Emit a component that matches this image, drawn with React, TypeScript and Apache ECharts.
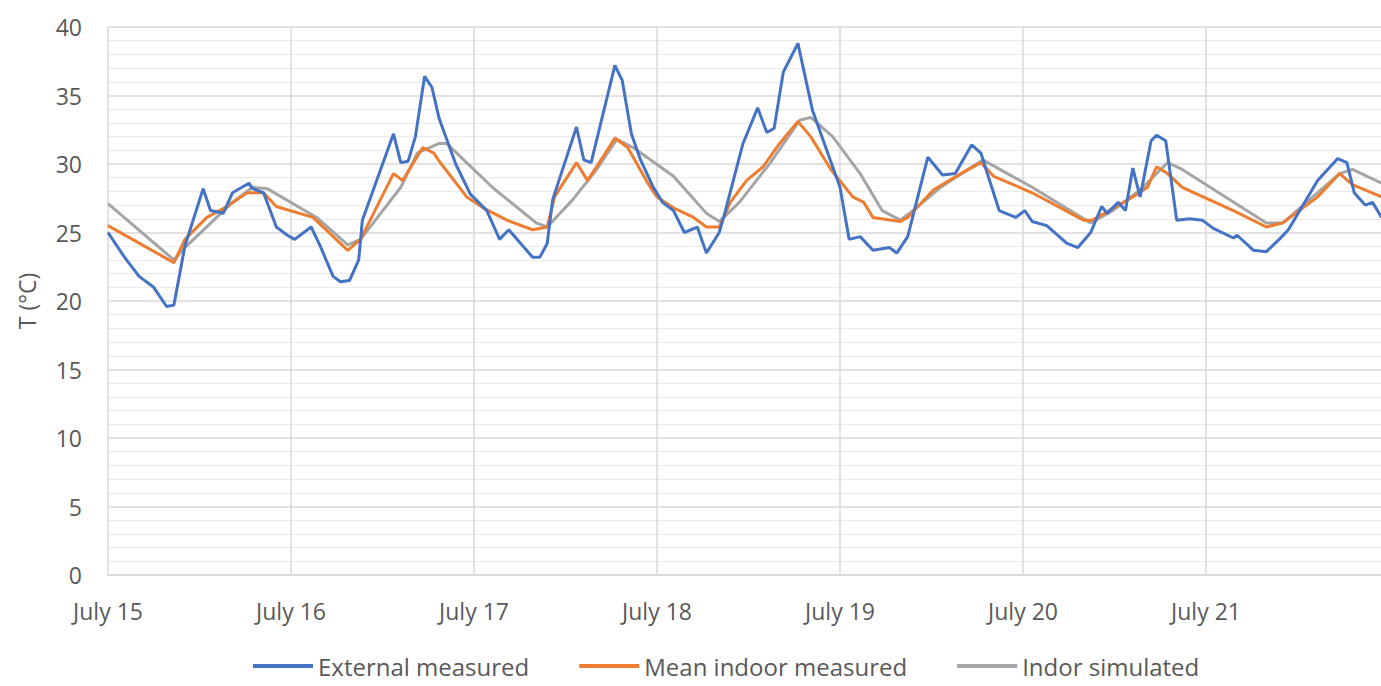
import React, { useEffect, useRef } from "react";
import * as echarts from "echarts";

// x = days since July 15 00:00, y = temperature (°C)
const dayLabels = ["July 15", "July 16", "July 17", "July 18", "July 19", "July 20", "July 21", "July 22"];

const externalMeasured: [number, number][] = [
  [0, 25.0], [0.09, 23.2], [0.17, 21.8], [0.25, 21.0], [0.32, 19.6], [0.36, 19.7], [0.42, 24.0],
  [0.52, 28.2], [0.56, 26.6], [0.63, 26.4], [0.68, 27.9], [0.77, 28.6], [0.79, 28.2], [0.85, 27.9],
  [0.92, 25.4], [0.98, 24.8], [1.02, 24.5], [1.11, 25.4], [1.16, 24.0], [1.23, 21.8], [1.27, 21.4],
  [1.32, 21.5], [1.37, 23.0], [1.39, 25.9], [1.56, 32.2], [1.60, 30.1], [1.64, 30.2], [1.68, 32.0],
  [1.73, 36.4], [1.77, 35.6], [1.81, 33.3], [1.90, 30.0], [1.98, 27.8], [2.07, 26.6], [2.14, 24.5],
  [2.19, 25.2], [2.32, 23.2], [2.36, 23.2], [2.40, 24.2], [2.43, 27.4], [2.56, 32.7], [2.60, 30.3],
  [2.64, 30.1], [2.77, 37.2], [2.81, 36.1], [2.86, 32.2], [2.91, 30.3], [2.98, 28.3], [3.03, 27.2],
  [3.09, 26.6], [3.15, 25.0], [3.22, 25.4], [3.27, 23.5], [3.34, 25.0], [3.37, 26.4], [3.47, 31.5],
  [3.55, 34.1], [3.60, 32.3], [3.64, 32.6], [3.69, 36.7], [3.77, 38.8], [3.85, 33.9], [4.00, 28.3],
  [4.05, 24.5], [4.11, 24.7], [4.18, 23.7], [4.27, 23.9], [4.31, 23.5], [4.37, 24.7], [4.48, 30.5],
  [4.56, 29.2], [4.63, 29.3], [4.72, 31.4], [4.77, 30.8], [4.81, 29.1], [4.87, 26.6], [4.96, 26.1],
  [5.01, 26.6], [5.05, 25.8], [5.13, 25.5], [5.24, 24.2], [5.30, 23.9], [5.37, 25.0], [5.43, 26.9],
  [5.46, 26.4], [5.52, 27.2], [5.56, 26.6], [5.60, 29.7], [5.64, 27.6], [5.70, 31.7], [5.73, 32.1],
  [5.78, 31.7], [5.84, 25.9], [5.91, 26.0], [5.98, 25.9], [6.04, 25.3], [6.15, 24.6], [6.17, 24.8],
  [6.26, 23.7], [6.33, 23.6], [6.40, 24.5], [6.45, 25.2], [6.61, 28.8], [6.72, 30.4], [6.77, 30.1],
  [6.81, 27.9], [6.87, 27.0], [6.91, 27.2], [6.96, 26.1],
];

const meanIndoorMeasured: [number, number][] = [
  [0, 25.5], [0.36, 22.8], [0.42, 24.5], [0.54, 26.1], [0.65, 26.9], [0.76, 27.9], [0.85, 27.9],
  [0.92, 26.9], [1.12, 26.1], [1.31, 23.7], [1.38, 24.5], [1.56, 29.3], [1.61, 28.8], [1.72, 31.2],
  [1.78, 30.8], [1.81, 30.2], [1.96, 27.6], [2.05, 26.8], [2.18, 25.9], [2.32, 25.2], [2.40, 25.4],
  [2.44, 27.6], [2.56, 30.1], [2.62, 28.8], [2.67, 29.8], [2.77, 31.9], [2.84, 31.2], [2.95, 28.6],
  [3.00, 27.6], [3.09, 26.8], [3.20, 26.1], [3.27, 25.4], [3.34, 25.4], [3.40, 27.2], [3.49, 28.8],
  [3.58, 29.8], [3.67, 31.5], [3.77, 33.1], [3.84, 32.0], [3.95, 29.6], [4.07, 27.6], [4.13, 27.2],
  [4.18, 26.1], [4.33, 25.8], [4.37, 26.1], [4.51, 28.1], [4.66, 29.3], [4.77, 30.1], [4.84, 29.1],
  [5.05, 27.9], [5.33, 25.9], [5.38, 25.9], [5.51, 26.9], [5.60, 27.6], [5.68, 28.3], [5.73, 29.8],
  [5.79, 29.3], [5.87, 28.3], [6.15, 26.6], [6.33, 25.4], [6.42, 25.7], [6.61, 27.6], [6.73, 29.3],
  [6.80, 28.5], [6.96, 27.6],
];

const indoorSimulated: [number, number][] = [
  [0, 27.1], [0.36, 23.0], [0.42, 23.9], [0.68, 27.2], [0.79, 28.3], [0.87, 28.2], [1.14, 26.1],
  [1.31, 24.1], [1.38, 24.5], [1.60, 28.3], [1.69, 30.8], [1.81, 31.5], [1.85, 31.5], [2.10, 28.3],
  [2.34, 25.7], [2.40, 25.4], [2.54, 27.4], [2.67, 29.6], [2.78, 31.8], [2.87, 31.2], [3.09, 29.1],
  [3.27, 26.4], [3.34, 25.8], [3.45, 27.2], [3.62, 30.1], [3.78, 33.2], [3.84, 33.4], [3.96, 32.0],
  [4.11, 29.3], [4.23, 26.6], [4.33, 25.9], [4.38, 26.4], [4.55, 28.3], [4.78, 30.3], [5.05, 28.3],
  [5.37, 25.7], [5.49, 26.6], [5.64, 28.1], [5.79, 30.1], [5.87, 29.6], [6.33, 25.7], [6.42, 25.7],
  [6.73, 29.3], [6.80, 29.6], [6.96, 28.6],
];

const seriesNames = ["External measured", "Mean indoor measured", "Indor simulated"];
const seriesColors = ["#4472C4", "#ED7D31", "#A5A5A5"];

export default function App() {
  const ref = useRef<HTMLDivElement>(null);
  useEffect(() => {
    if (!ref.current) return;
    const chart = echarts.init(ref.current, undefined, { renderer: "svg" });
    const font = "'Open Sans', sans-serif";
    const datasets = [externalMeasured, meanIndoorMeasured, indoorSimulated];
    chart.setOption({
      animation: false,
      backgroundColor: "#ffffff",
      grid: {
        left: 108,
        top: 27,
        width: 1281,
        height: 548,
        containLabel: false,
        outerBoundsMode: "none",
      },
      legend: {
        bottom: 3,
        left: 248,
        itemWidth: 60,
        itemHeight: 4,
        itemGap: 50,
        icon: "rect",
        textStyle: { color: "#595959", fontSize: 24, fontFamily: font },
        data: seriesNames,
      },
      xAxis: {
        type: "value",
        min: 0,
        max: 7,
        interval: 1,
        axisLine: { show: true, lineStyle: { color: "#D9D9D9", width: 1.5 } },
        axisTick: { show: false },
        axisLabel: {
          color: "#595959",
          fontSize: 23,
          fontFamily: font,
          margin: 24,
          formatter: (v: number) => (v >= 7 ? "" : dayLabels[Math.round(v)]),
        },
        splitLine: { show: true, lineStyle: { color: "#D9D9D9", width: 1.5 } },
      },
      yAxis: {
        type: "value",
        min: 0,
        max: 40,
        interval: 5,
        name: "T (°C)",
        nameLocation: "middle",
        nameGap: 70,
        nameRotate: 90,
        nameTextStyle: { color: "#595959", fontSize: 23, fontFamily: font },
        axisLine: { show: false },
        axisTick: { show: false },
        axisLabel: { color: "#595959", fontSize: 23, fontFamily: font, margin: 26 },
        splitLine: { show: true, lineStyle: { color: "#D9D9D9", width: 1.5 } },
        minorTick: { show: false, splitNumber: 5 },
        minorSplitLine: { show: true, lineStyle: { color: "#EAEAEA", width: 1 } },
      },
      series: datasets.map((d, i) => ({
        name: seriesNames[i],
        type: "line",
        data: d,
        showSymbol: false,
        symbol: "none",
        z: 3 - i + 2,
        lineStyle: { color: seriesColors[i], width: 3 },
        itemStyle: { color: seriesColors[i] },
      })),
    });
    return () => chart.dispose();
  }, []);
  return (
    <div
      ref={ref}
      style={{ position: "fixed", left: 0, top: 0, width: 1381, height: 686 }}
    />
  );
}
